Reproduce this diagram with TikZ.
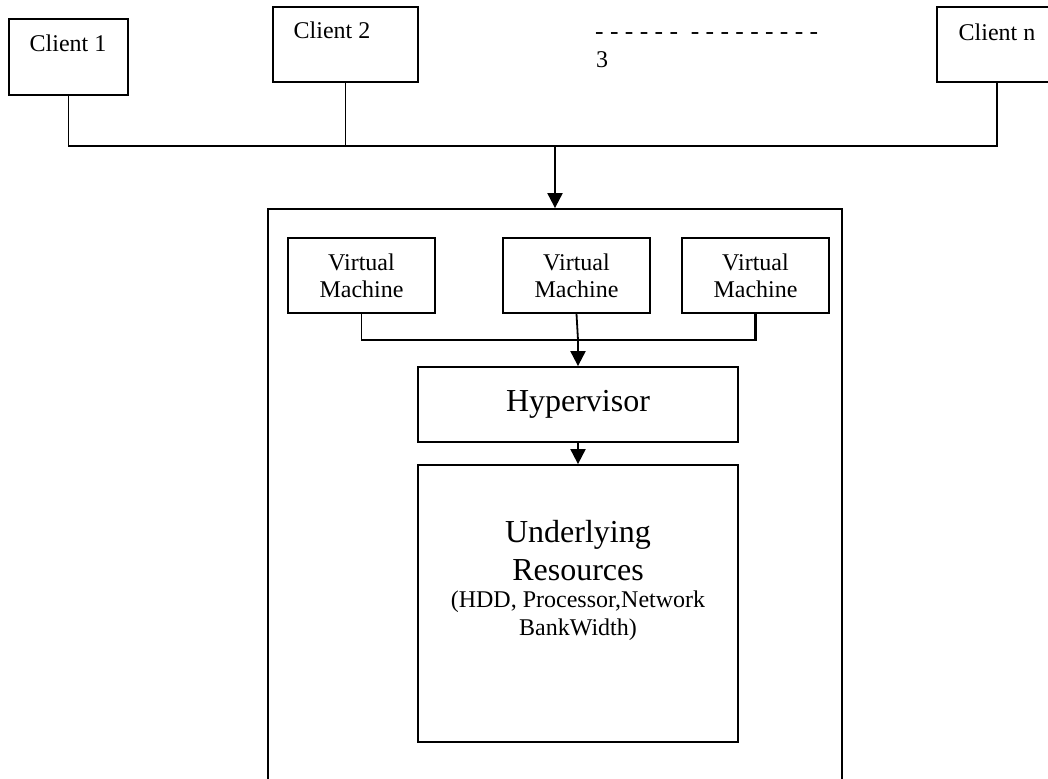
\documentclass[tikz,border=0pt]{standalone}
\usepackage{fontspec}
\setmainfont{Liberation Serif}
\usetikzlibrary{arrows.meta}
\begin{document}
\begin{tikzpicture}[x=1pt,y=-1pt,
  box/.style={draw, line width=1.8pt, rectangle, inner sep=0pt},
  lbl/.style={font=\fontsize{24}{27}\selectfont, align=center, inner sep=0pt},
  big/.style={font=\fontsize{32}{38}\selectfont, align=center, inner sep=0pt},
  wire/.style={line width=1.8pt},
  heavy/.style={line width=2.4pt},
  arr/.style={line width=2pt, -{Triangle[width=15pt,length=15pt]}},
]
\useasboundingbox (0,0) rectangle (1048,778);
\clip (0,0) rectangle (1048,778);
\fill[white] (0,0) rectangle (1048,778);

% clients
\node[box, minimum width=119pt, minimum height=76pt] (c1) at (68.5,57) {};
\node[box, minimum width=145pt, minimum height=75pt] (c2) at (345.5,44.5) {};
\node[box, minimum width=120pt, minimum height=75pt] (cn) at (997,44.5) {};
\node[lbl] (t1) at (68,43) {Client 1};
\node[lbl] (t2) at (332,30) {Client 2};
\node[lbl] (tn) at (997,32) {Client n};
\node[lbl, font=\fontsize{25.5}{27}\selectfont, anchor=west] (dots) at (595,36) {- - - - - -\ \ - - - - - - - - -};
\node[lbl, anchor=west] (three) at (596,60) {3};

% host
\node[box, minimum width=574pt, minimum height=600pt] (host) at (555,509) {};
\node[box, lbl, minimum width=147pt, minimum height=75pt] (vm1) at (361.5,275.5) {Virtual\\Machine};
\node[box, lbl, minimum width=147pt, minimum height=75pt] (vm2) at (576.5,275.5) {Virtual\\Machine};
\node[box, lbl, minimum width=147pt, minimum height=75pt] (vm3) at (755.5,275.5) {Virtual\\Machine};
\node[box, big, minimum width=320pt, minimum height=75pt] (hyp) at (578,404.5) {Hypervisor};
\node[box, minimum width=320pt, minimum height=277pt] (res) at (578,603.5) {};
\node[big] (rest) at (578,551) {Underlying\\Resources};
\node[lbl, font=\fontsize{24}{28}\selectfont] (resd) at (578,616) {(HDD, Processor,Network\\BankWidth)};

% connectors
\coordinate (j) at (555,146);
\draw[wire] (c1.south) |- (j);
\draw[wire] (c2.south) -- (c2.south |- j);
\draw[heavy] (cn.south) |- (j);
\draw[arr] (j) -- (host.north);

\coordinate (k) at (578,340);
\draw[wire] (vm1.south) |- (k);
\draw[heavy] (vm3.south) |- (k);
\draw[wire] (vm2.south) -- (k);
\draw[arr] (k) -- (hyp.north);
\draw[arr] (hyp.south) -- (res.north);
\end{tikzpicture}
\end{document}
